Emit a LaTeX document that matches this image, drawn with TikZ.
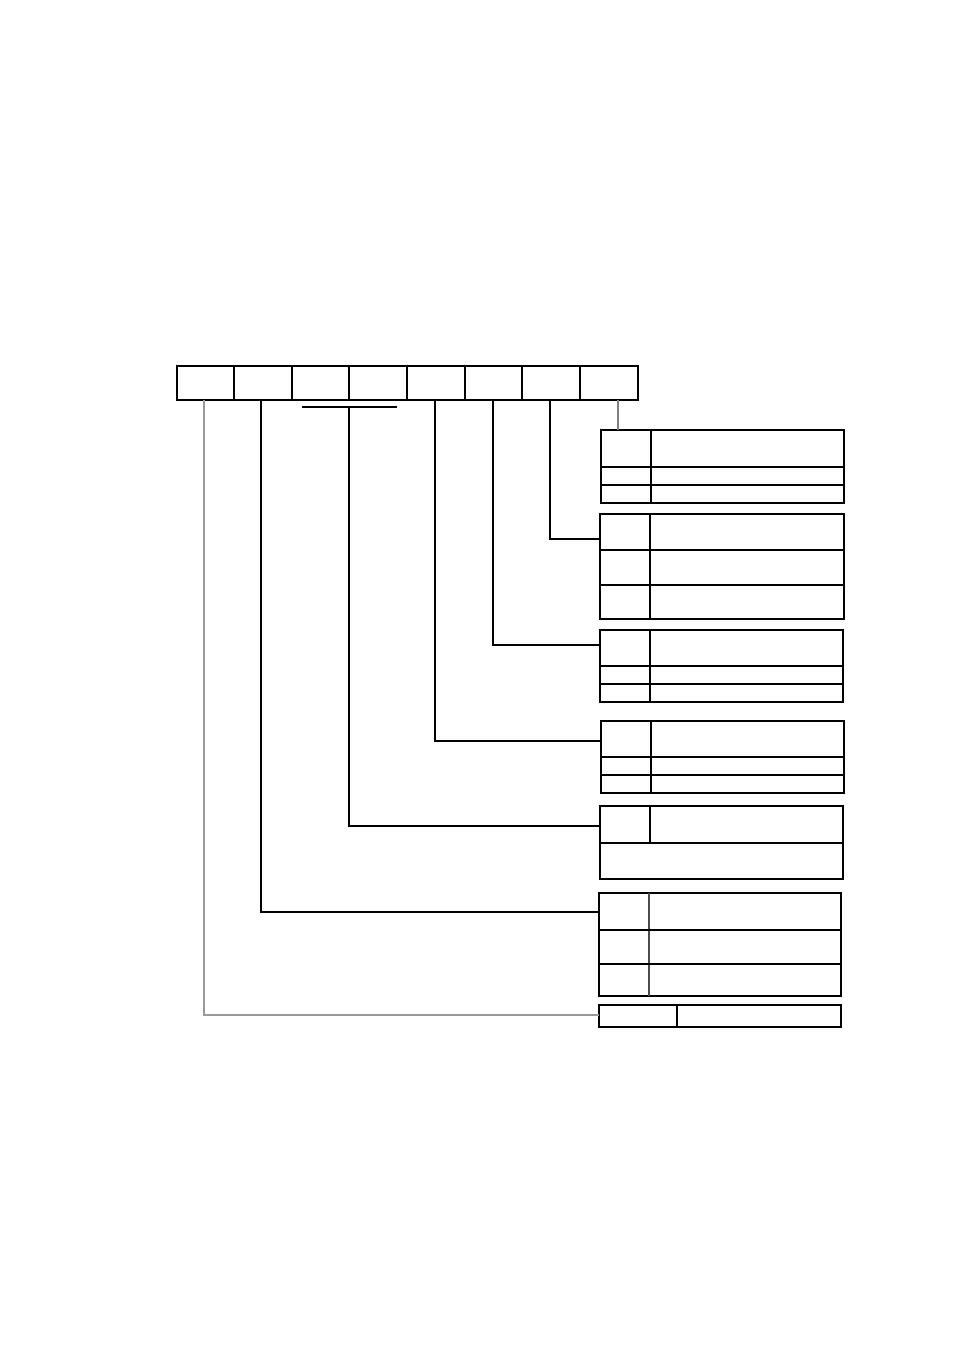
\documentclass[tikz,border=0pt]{standalone}
\begin{document}
\begin{tikzpicture}[x=1pt,y=-1pt,
  cell/.style={draw=black,line width=1.1pt,rectangle,inner sep=0pt,outer sep=0pt,anchor=north west},
  wire/.style={draw=black,line width=1.1pt},
  faint/.style={draw=black!40,line width=1.1pt},
  inner/.style={draw=black,line width=1.1pt}]
\useasboundingbox (0,0) rectangle (954,1351);
% top row of cells
\foreach \n/\a/\b in {1/177/234,2/234/292,3/292/349,4/349/407,5/407/465,6/465/522,7/522/580,8/580/638}{
  \pgfmathsetmacro{\w}{\b-\a}
  \node[cell,minimum width=\w pt,minimum height=34pt] (c\n) at (\a,366) {};
}
% right boxes
\node[cell,minimum width=243pt,minimum height=73pt] (b1) at (601,430) {};
\node[cell,minimum width=244pt,minimum height=105pt] (b2) at (600,514) {};
\node[cell,minimum width=243pt,minimum height=72pt] (b3) at (600,630) {};
\node[cell,minimum width=243pt,minimum height=72pt] (b4) at (601,721) {};
\node[cell,minimum width=243pt,minimum height=73pt] (b5) at (600,806) {};
\node[cell,minimum width=242pt,minimum height=103pt] (b6) at (599,893) {};
\node[cell,minimum width=242pt,minimum height=22pt] (b7) at (599,1005) {};
% inner lines of boxes
\draw[inner] (651,430) -- (651,503);
\draw[inner] (601,467) -- (844,467) (601,485) -- (844,485);
\draw[inner] (650,514) -- (650,619);
\draw[inner] (600,550) -- (844,550) (600,585) -- (844,585);
\draw[inner] (650,630) -- (650,702);
\draw[inner] (600,666) -- (843,666) (600,684) -- (843,684);
\draw[inner] (651,721) -- (651,793);
\draw[inner] (601,757) -- (844,757) (601,775) -- (844,775);
\draw[inner] (650,806) -- (650,843);
\draw[inner] (600,843) -- (843,843);
\draw[inner,draw=black!70] (649,893) -- (649,996);
\draw[inner] (599,930) -- (841,930) (599,964) -- (841,964);
\draw[inner] (677,1005) -- (677,1027);
% tap coordinates and entry coordinates
\coordinate (t1) at (204,400);
\coordinate (t2) at (261,400);
\coordinate (bl) at (302,407);
\coordinate (br) at (397,407);
\coordinate (t34) at (349,407);
\coordinate (t5) at (435,400);
\coordinate (t6) at (493,400);
\coordinate (t7) at (550,400);
\coordinate (t8) at (618,400);
\coordinate (e1) at (618,430);
\coordinate (e2) at (600,539);
\coordinate (e3) at (600,645);
\coordinate (e4) at (601,741);
\coordinate (e5) at (600,826);
\coordinate (e6) at (599,912);
\coordinate (e7) at (599,1015);
% connectors
\draw[faint] (t1) |- (e7);
\draw[wire] (t2) |- (e6);
\draw[wire] (bl) -- (br);
\draw[wire] (t34) |- (e5);
\draw[wire] (t5) |- (e4);
\draw[wire] (t6) |- (e3);
\draw[wire] (t7) |- (e2);
\draw[faint,draw=black!50] (t8) -- (e1);
\end{tikzpicture}
\end{document}
